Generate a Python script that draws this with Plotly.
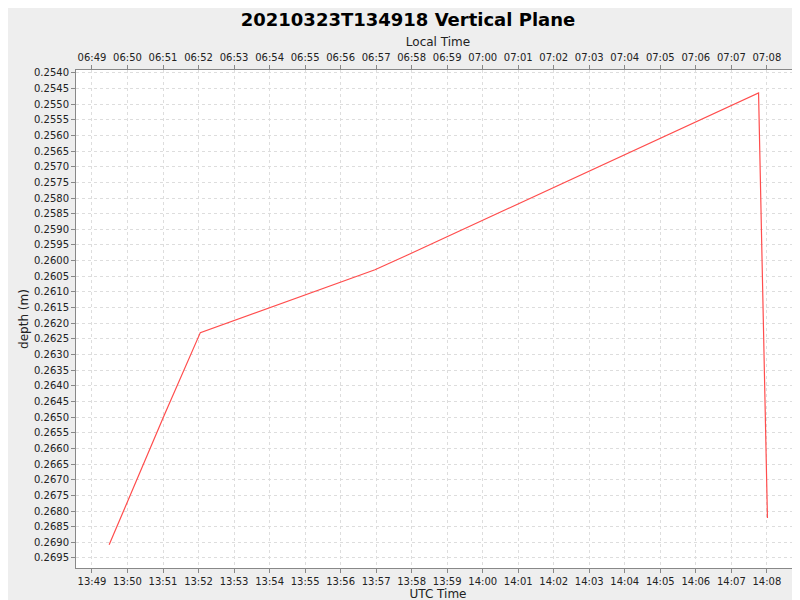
import pandas as pd
import plotly.graph_objects as go

utc_times = ["2021-03-23 13:49:29", "2021-03-23 13:51:02", "2021-03-23 13:52:03",
             "2021-03-23 13:56:58", "2021-03-23 13:57:54", "2021-03-23 14:07:46",
             "2021-03-23 14:08:01"]
depths = [0.26908, 0.26494, 0.26230, 0.26029, 0.25981, 0.25464, 0.26822]
local_offset_hours = -7

utc = pd.to_datetime(utc_times)
local = utc + pd.Timedelta(hours=local_offset_hours)

x_range = [pd.Timestamp("2021-03-23 13:48:33"), pd.Timestamp("2021-03-23 14:08:56")]
x_range_local = [t + pd.Timedelta(hours=local_offset_hours) for t in x_range]

fig = go.Figure()
fig.add_trace(go.Scatter(x=utc, y=depths, mode='lines',
                         line=dict(color='#ff4d4d', width=1.2), showlegend=False))
fig.add_trace(go.Scatter(x=local, y=depths, mode='lines', xaxis='x2',
                         line=dict(color='rgba(0,0,0,0)'), showlegend=False, hoverinfo='skip'))

axis_style = dict(showgrid=True, gridcolor='#dddddd', griddash='3px,3px', gridwidth=1,
                  linecolor='#888888', showline=True, ticks='outside', ticklen=4,
                  tickcolor='#888888', tickfont=dict(size=10, color='#222'), zeroline=False,
                  automargin=False)

fig.update_layout(
    width=800, height=600,
    paper_bgcolor='#eeeeee', plot_bgcolor='white',
    font=dict(family='DejaVu Sans', color='#222'),
    title=dict(text='<b>20210323T134918 Vertical Plane</b>', x=0.5, y=0.98,
               xanchor='center', yanchor='middle', font=dict(size=18, color='black')),
    margin=dict(l=68, r=8, t=62, b=40, autoexpand=False),
    xaxis=dict(range=x_range, dtick=60000, tickformat='%H:%M', mirror=False,
               title=dict(text='UTC Time', font=dict(size=12), standoff=2), **axis_style),
    xaxis2=dict(range=x_range_local, dtick=60000, tickformat='%H:%M', overlaying='x', side='top',
                title=dict(text='Local Time', font=dict(size=12), standoff=2),
                showgrid=False, showline=True, linecolor='#888888', ticks='outside', ticklen=4,
                tickcolor='#888888', tickfont=dict(size=10, color='#222'), zeroline=False,
                automargin=False),
    yaxis=dict(range=[0.26982, 0.25391], dtick=0.0005, tickformat='.4f', mirror=True,
               title=dict(text='depth (m)', font=dict(size=12), standoff=2), **axis_style),
)

fig.write_html("out.html")
